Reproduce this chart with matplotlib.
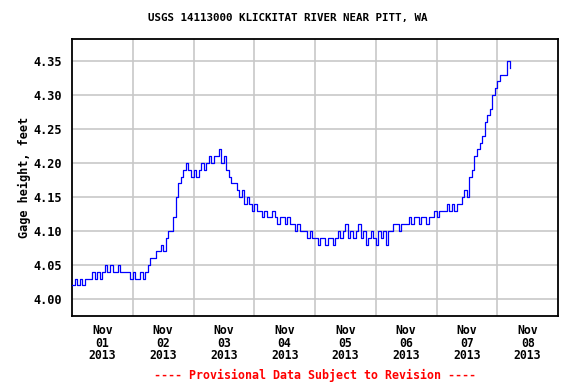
import numpy as np
import matplotlib.pyplot as plt

# =====================================================
# DADOS (gage height, hourly, starting Nov 01 00:00)
# =====================================================

TITLE = "USGS 14113000 KLICKITAT RIVER NEAR PITT, WA"
YLABEL = "Gage height, feet"
FOOTER = "---- Provisional Data Subject to Revision ----"

day_labels = ["Nov\n01\n2013", "Nov\n02\n2013", "Nov\n03\n2013", "Nov\n04\n2013",
              "Nov\n05\n2013", "Nov\n06\n2013", "Nov\n07\n2013", "Nov\n08\n2013"]

y_ticks = [4.00, 4.05, 4.10, 4.15, 4.20, 4.25, 4.30, 4.35]

stage = [
    # Nov 01
    4.02, 4.03, 4.02, 4.03, 4.02, 4.03, 4.03, 4.03, 4.04, 4.03, 4.04, 4.03,
    4.04, 4.05, 4.04, 4.05, 4.04, 4.04, 4.05, 4.04, 4.04, 4.04, 4.04, 4.03,
    # Nov 02
    4.04, 4.03, 4.03, 4.04, 4.03, 4.04, 4.05, 4.06, 4.06, 4.07, 4.07, 4.08,
    4.07, 4.09, 4.10, 4.10, 4.12, 4.15, 4.17, 4.18, 4.19, 4.20, 4.19, 4.18,
    # Nov 03
    4.19, 4.18, 4.19, 4.20, 4.19, 4.20, 4.21, 4.20, 4.21, 4.21, 4.22, 4.20,
    4.21, 4.19, 4.18, 4.17, 4.17, 4.16, 4.15, 4.16, 4.14, 4.15, 4.14, 4.13,
    # Nov 04
    4.14, 4.13, 4.13, 4.12, 4.13, 4.12, 4.12, 4.13, 4.12, 4.11, 4.12, 4.12,
    4.11, 4.12, 4.11, 4.11, 4.10, 4.11, 4.10, 4.10, 4.10, 4.09, 4.10, 4.09,
    # Nov 05
    4.09, 4.08, 4.09, 4.09, 4.08, 4.09, 4.09, 4.08, 4.09, 4.10, 4.09, 4.10,
    4.11, 4.09, 4.10, 4.09, 4.10, 4.11, 4.09, 4.10, 4.08, 4.09, 4.10, 4.09,
    # Nov 06
    4.08, 4.10, 4.09, 4.10, 4.08, 4.10, 4.10, 4.11, 4.11, 4.10, 4.11, 4.11,
    4.11, 4.12, 4.11, 4.12, 4.12, 4.11, 4.12, 4.12, 4.11, 4.12, 4.12, 4.13,
    # Nov 07
    4.12, 4.13, 4.13, 4.13, 4.14, 4.13, 4.14, 4.13, 4.14, 4.14, 4.15, 4.16,
    4.15, 4.18, 4.19, 4.21, 4.22, 4.23, 4.24, 4.26, 4.27, 4.28, 4.30, 4.31,
    # Nov 08
    4.32, 4.33, 4.33, 4.33, 4.35, 4.34,
]

hours = np.arange(len(stage))
days = hours / 24.0

# =====================================================
# FIGURA
# =====================================================

FONT = "DejaVu Sans Mono"

fig = plt.figure(figsize=(5.76, 3.84), dpi=100)
ax = fig.add_axes([0.125, 0.177, 0.84375, 0.721])

ax.plot(
    days,
    stage,
    drawstyle="steps-post",
    color="#0000ff",
    linewidth=0.9,
    zorder=3
)

ax.set_xlim(0, 8)
ax.set_ylim(3.975, 4.382)

# grid at midnight, labels at noon
ax.set_xticks(range(1, 8))
ax.set_xticklabels([])
ax.set_xticks(np.arange(0.5, 8, 1.0), minor=True)
ax.set_xticklabels(day_labels, minor=True, fontfamily=FONT,
                   fontweight="bold", fontsize=8.3, linespacing=0.95)

ax.set_yticks(y_ticks)
ax.set_yticklabels([f"{v:.2f}" for v in y_ticks], fontfamily=FONT,
                   fontweight="bold", fontsize=8.6)

ax.tick_params(axis="both", which="both", length=0)
ax.tick_params(axis="x", which="minor", pad=6)
ax.tick_params(axis="y", pad=7)

ax.grid(True, which="major", color="#c8c8c8", linewidth=1.2, zorder=0)
ax.set_axisbelow(True)

for sp in ax.spines.values():
    sp.set_linewidth(1.3)
    sp.set_color("black")

ax.set_ylabel(YLABEL, fontfamily=FONT, fontweight="bold", fontsize=8.6,
              labelpad=2)

fig.text(0.5, 0.953, TITLE, ha="center", va="center",
         fontfamily=FONT, fontweight="bold", fontsize=7.8)

fig.text(0.547, 0.023, FOOTER, ha="center", va="center",
         fontfamily=FONT, fontweight="bold", fontsize=8.4, color="#ff0000")

plt.savefig("out.png", dpi=100)
plt.close()
